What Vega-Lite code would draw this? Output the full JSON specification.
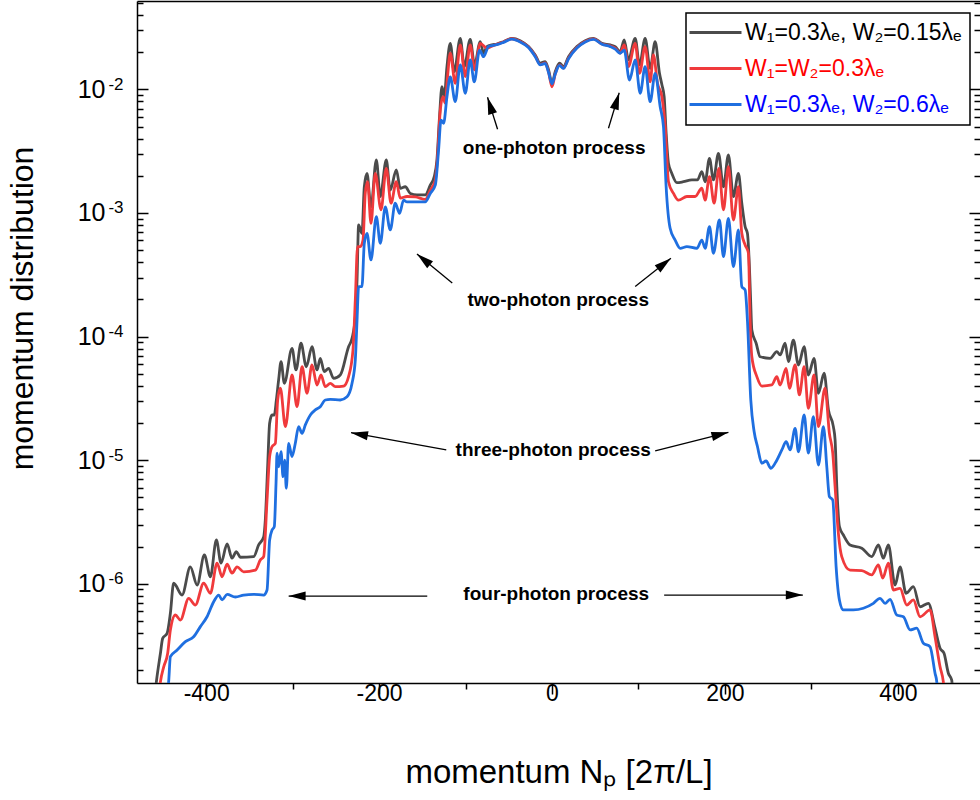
{
"$schema": "https://vega.github.io/schema/vega-lite/v6.json",
"width": 843, "height": 682,
"autosize": {"type": "none"},
"padding": {"left": 137, "top": 1, "right": 0, "bottom": 117},
"config": {
  "font": "Liberation Sans",
  "view": {"stroke": null},
  "axis": {"domainColor": "black", "domainWidth": 1.5, "tickColor": "black", "tickWidth": 1.5, "labelColor": "black", "titleColor": "black", "grid": false, "labelFont": "Liberation Sans", "titleFont": "Liberation Sans", "titleFontWeight": "normal"}
},
"datasets": {
"curves": [
{"k":"a","x":-459.9,"y":1.15e-7},{"k":"a","x":-457.6,"y":1.61e-7},{"k":"a","x":-452.9,"y":2.74e-7},{"k":"a","x":-450.3,"y":3.62e-7},{"k":"a","x":-445.2,"y":3.97e-7},{"k":"a","x":-441.4,"y":5.77e-7},{"k":"a","x":-437.6,"y":1.01e-6},{"k":"a","x":-427.9,"y":8.11e-7},{"k":"a","x":-418.3,"y":1.37e-6},{"k":"a","x":-410.5,"y":9.77e-7},{"k":"a","x":-402.1,"y":1.71e-6},{"k":"a","x":-395.1,"y":1.14e-6},{"k":"a","x":-388.2,"y":2.26e-6},{"k":"a","x":-382.8,"y":1.47e-6},{"k":"a","x":-375.8,"y":2.10e-6},{"k":"a","x":-370.1,"y":1.61e-6},{"k":"a","x":-365.1,"y":1.82e-6},{"k":"a","x":-360.5,"y":1.64e-6},{"k":"a","x":-345.1,"y":1.66e-6},{"k":"a","x":-339.3,"y":2.06e-6},{"k":"a","x":-333.5,"y":2.40e-6},{"k":"a","x":-331.6,"y":3.28e-6},{"k":"a","x":-328.9,"y":8.85e-6},{"k":"a","x":-326.6,"y":1.99e-5},{"k":"a","x":-323.8,"y":2.32e-5},{"k":"a","x":-321.2,"y":2.32e-5},{"k":"a","x":-318.8,"y":3.07e-5},{"k":"a","x":-316.2,"y":4.46e-5},{"k":"a","x":-313.4,"y":6.27e-5},{"k":"a","x":-309.6,"y":4.19e-5},{"k":"a","x":-300.7,"y":8.04e-5},{"k":"a","x":-296.1,"y":5.37e-5},{"k":"a","x":-290.3,"y":8.83e-5},{"k":"a","x":-284.2,"y":5.70e-5},{"k":"a","x":-277.6,"y":8.28e-5},{"k":"a","x":-271.8,"y":5.37e-5},{"k":"a","x":-268.0,"y":6.67e-5},{"k":"a","x":-263.4,"y":5.20e-5},{"k":"a","x":-258.4,"y":5.53e-5},{"k":"a","x":-252.6,"y":4.59e-5},{"k":"a","x":-244.9,"y":4.89e-5},{"k":"a","x":-235.3,"y":8.28e-5},{"k":"a","x":-231.3,"y":9.68e-5},{"k":"a","x":-227.5,"y":1.45e-4},{"k":"a","x":-225.5,"y":2.87e-4},{"k":"a","x":-223.7,"y":8.00e-4},{"k":"a","x":-219.8,"y":6.85e-4},{"k":"a","x":-217.1,"y":1.63e-3},{"k":"a","x":-214.0,"y":2.09e-3},{"k":"a","x":-209.4,"y":1.12e-3},{"k":"a","x":-203.2,"y":2.69e-3},{"k":"a","x":-198.6,"y":1.36e-3},{"k":"a","x":-191.7,"y":2.69e-3},{"k":"a","x":-187.1,"y":1.53e-3},{"k":"a","x":-180.1,"y":2.23e-3},{"k":"a","x":-175.5,"y":1.585e-3},{"k":"a","x":-169.7,"y":1.63e-3},{"k":"a","x":-163.9,"y":1.44e-3},{"k":"a","x":-156.2,"y":1.40e-3},{"k":"a","x":-146.6,"y":1.40e-3},{"k":"a","x":-140.8,"y":1.68e-3},{"k":"a","x":-136.2,"y":1.97e-3},{"k":"a","x":-133.1,"y":2.69e-3},{"k":"a","x":-130.1,"y":6.01e-3},{"k":"a","x":-127.3,"y":1.052e-2},{"k":"a","x":-124.6,"y":8.73e-3},{"k":"a","x":-121.5,"y":1.53e-2},{"k":"a","x":-117.7,"y":2.36e-2},{"k":"a","x":-113.1,"y":1.39e-2},{"k":"a","x":-106.1,"y":2.59e-2},{"k":"a","x":-101.5,"y":1.53e-2},{"k":"a","x":-94.6,"y":2.54e-2},{"k":"a","x":-89.6,"y":1.58e-2},{"k":"a","x":-83.0,"y":2.43e-2},{"k":"a","x":-79.2,"y":1.96e-2},{"k":"a","x":-75.3,"y":2.22e-2},{"k":"a","x":-69.5,"y":2.29e-2},{"k":"a","x":-63.7,"y":2.33e-2},{"k":"a","x":-56.1,"y":2.43e-2},{"k":"a","x":-46.4,"y":2.59e-2},{"k":"a","x":-36.8,"y":2.48e-2},{"k":"a","x":-27.2,"y":2.22e-2},{"k":"a","x":-19.4,"y":1.90e-2},{"k":"a","x":-13.6,"y":1.63e-2},{"k":"a","x":-7.9,"y":1.68e-2},{"k":"a","x":-4.0,"y":1.44e-2},{"k":"a","x":0,"y":1.12e-2},{"k":"a","x":3.7,"y":1.39e-2},{"k":"a","x":8.7,"y":1.63e-2},{"k":"a","x":13.3,"y":1.53e-2},{"k":"a","x":19.1,"y":1.84e-2},{"k":"a","x":28.8,"y":2.22e-2},{"k":"a","x":38.4,"y":2.48e-2},{"k":"a","x":48.0,"y":2.59e-2},{"k":"a","x":57.7,"y":2.36e-2},{"k":"a","x":67.3,"y":2.29e-2},{"k":"a","x":73.1,"y":2.22e-2},{"k":"a","x":78.8,"y":2.02e-2},{"k":"a","x":83.5,"y":2.51e-2},{"k":"a","x":88.4,"y":1.73e-2},{"k":"a","x":96.2,"y":2.59e-2},{"k":"a","x":101.2,"y":1.58e-2},{"k":"a","x":107.7,"y":2.59e-2},{"k":"a","x":113.5,"y":1.48e-2},{"k":"a","x":119.3,"y":2.43e-2},{"k":"a","x":124.3,"y":1.35e-2},{"k":"a","x":127.1,"y":1.09e-2},{"k":"a","x":129.7,"y":8.73e-3},{"k":"a","x":132.0,"y":4.41e-3},{"k":"a","x":134.7,"y":2.52e-3},{"k":"a","x":138.6,"y":2.09e-3},{"k":"a","x":144.4,"y":1.76e-3},{"k":"a","x":152.0,"y":1.79e-3},{"k":"a","x":161.7,"y":1.85e-3},{"k":"a","x":168.2,"y":1.85e-3},{"k":"a","x":173.3,"y":2.16e-3},{"k":"a","x":177.1,"y":1.79e-3},{"k":"a","x":182.1,"y":2.77e-3},{"k":"a","x":186.7,"y":1.85e-3},{"k":"a","x":192.5,"y":3.04e-3},{"k":"a","x":198.3,"y":1.63e-3},{"k":"a","x":204.0,"y":2.95e-3},{"k":"a","x":209.8,"y":1.36e-3},{"k":"a","x":215.6,"y":2.09e-3},{"k":"a","x":219.5,"y":1.20e-3},{"k":"a","x":223.4,"y":7.74e-4},{"k":"a","x":226.0,"y":6.85e-4},{"k":"a","x":228.3,"y":3.68e-4},{"k":"a","x":229.7,"y":1.98e-4},{"k":"a","x":231.1,"y":1.13e-4},{"k":"a","x":236.1,"y":8.83e-5},{"k":"a","x":240.7,"y":6.87e-5},{"k":"a","x":252.3,"y":6.67e-5},{"k":"a","x":260.0,"y":7.55e-5},{"k":"a","x":263.8,"y":7.10e-5},{"k":"a","x":269.6,"y":8.83e-5},{"k":"a","x":273.4,"y":6.27e-5},{"k":"a","x":279.2,"y":9.38e-5},{"k":"a","x":285.0,"y":5.89e-5},{"k":"a","x":291.6,"y":8.28e-5},{"k":"a","x":296.5,"y":4.89e-5},{"k":"a","x":303.1,"y":6.67e-5},{"k":"a","x":308.1,"y":3.48e-5},{"k":"a","x":314.7,"y":5.05e-5},{"k":"a","x":319.7,"y":2.55e-5},{"k":"a","x":325.4,"y":1.87e-5},{"k":"a","x":327.4,"y":1.46e-5},{"k":"a","x":329.4,"y":6.10e-6},{"k":"a","x":332.4,"y":2.90e-6},{"k":"a","x":337.0,"y":2.48e-6},{"k":"a","x":344.7,"y":2.06e-6},{"k":"a","x":358.3,"y":1.94e-6},{"k":"a","x":369.8,"y":1.66e-6},{"k":"a","x":377.5,"y":2.06e-6},{"k":"a","x":383.2,"y":1.61e-6},{"k":"a","x":389.0,"y":2.06e-6},{"k":"a","x":396.8,"y":9.77e-7},{"k":"a","x":402.5,"y":1.37e-6},{"k":"a","x":409.5,"y":8.38e-7},{"k":"a","x":417.9,"y":9.47e-7},{"k":"a","x":425.7,"y":6.52e-7},{"k":"a","x":435.3,"y":6.95e-7},{"k":"a","x":443.0,"y":4.37e-7},{"k":"a","x":448.8,"y":3.01e-7},{"k":"a","x":453.4,"y":2.74e-7},{"k":"a","x":458.4,"y":1.89e-7},{"k":"a","x":462.3,"y":1.66e-7},{"k":"a","x":463.8,"y":1.15e-7},
{"k":"b","x":-455.3,"y":1.15e-7},{"k":"b","x":-452.9,"y":1.61e-7},{"k":"b","x":-449.1,"y":2.13e-7},{"k":"b","x":-444.5,"y":2.74e-7},{"k":"b","x":-441.4,"y":4.23e-7},{"k":"b","x":-435.6,"y":5.59e-7},{"k":"b","x":-429.8,"y":5.09e-7},{"k":"b","x":-420.2,"y":7.63e-7},{"k":"b","x":-412.5,"y":6.73e-7},{"k":"b","x":-402.9,"y":1.01e-6},{"k":"b","x":-395.1,"y":8.38e-7},{"k":"b","x":-387.4,"y":1.47e-6},{"k":"b","x":-381.6,"y":1.14e-6},{"k":"b","x":-375.8,"y":1.44e-6},{"k":"b","x":-370.1,"y":1.22e-6},{"k":"b","x":-364.3,"y":1.37e-6},{"k":"b","x":-356.6,"y":1.25e-6},{"k":"b","x":-343.1,"y":1.29e-6},{"k":"b","x":-337.3,"y":1.56e-6},{"k":"b","x":-333.5,"y":1.66e-6},{"k":"b","x":-329.6,"y":4.76e-6},{"k":"b","x":-326.6,"y":1.07e-5},{"k":"b","x":-323.8,"y":1.29e-5},{"k":"b","x":-320.0,"y":1.37e-5},{"k":"b","x":-317.3,"y":3.07e-5},{"k":"b","x":-314.2,"y":3.82e-5},{"k":"b","x":-308.4,"y":1.87e-5},{"k":"b","x":-300.7,"y":4.89e-5},{"k":"b","x":-294.9,"y":2.71e-5},{"k":"b","x":-289.1,"y":5.70e-5},{"k":"b","x":-283.4,"y":3.48e-5},{"k":"b","x":-277.6,"y":5.89e-5},{"k":"b","x":-271.8,"y":4.06e-5},{"k":"b","x":-267.2,"y":4.89e-5},{"k":"b","x":-262.2,"y":3.93e-5},{"k":"b","x":-256.4,"y":4.19e-5},{"k":"b","x":-250.6,"y":3.93e-5},{"k":"b","x":-241.0,"y":3.98e-5},{"k":"b","x":-235.3,"y":4.74e-5},{"k":"b","x":-230.2,"y":7.79e-5},{"k":"b","x":-227.5,"y":1.98e-4},{"k":"b","x":-224.9,"y":5.34e-4},{"k":"b","x":-221.7,"y":5.34e-4},{"k":"b","x":-218.6,"y":6.04e-4},{"k":"b","x":-216.0,"y":1.44e-3},{"k":"b","x":-213.3,"y":1.79e-3},{"k":"b","x":-209.4,"y":8.25e-4},{"k":"b","x":-204.4,"y":2.09e-3},{"k":"b","x":-197.8,"y":1.06e-3},{"k":"b","x":-191.7,"y":2.30e-3},{"k":"b","x":-186.2,"y":1.20e-3},{"k":"b","x":-180.1,"y":1.79e-3},{"k":"b","x":-175.5,"y":1.32e-3},{"k":"b","x":-167.7,"y":1.36e-3},{"k":"b","x":-158.2,"y":1.35e-3},{"k":"b","x":-146.6,"y":1.29e-3},{"k":"b","x":-140.8,"y":1.53e-3},{"k":"b","x":-135.0,"y":1.85e-3},{"k":"b","x":-132.4,"y":2.85e-3},{"k":"b","x":-129.2,"y":6.81e-3},{"k":"b","x":-126.1,"y":8.73e-3},{"k":"b","x":-123.5,"y":7.72e-3},{"k":"b","x":-120.8,"y":1.27e-2},{"k":"b","x":-117.7,"y":1.96e-2},{"k":"b","x":-111.9,"y":1.12e-2},{"k":"b","x":-106.1,"y":2.29e-2},{"k":"b","x":-100.3,"y":1.27e-2},{"k":"b","x":-94.6,"y":2.29e-2},{"k":"b","x":-89.6,"y":1.44e-2},{"k":"b","x":-83.0,"y":2.36e-2},{"k":"b","x":-75.3,"y":2.16e-2},{"k":"b","x":-69.5,"y":2.24e-2},{"k":"b","x":-56.1,"y":2.42e-2},{"k":"b","x":-46.4,"y":2.57e-2},{"k":"b","x":-36.8,"y":2.44e-2},{"k":"b","x":-27.2,"y":2.20e-2},{"k":"b","x":-19.4,"y":1.86e-2},{"k":"b","x":-13.6,"y":1.59e-2},{"k":"b","x":-7.9,"y":1.64e-2},{"k":"b","x":-4.0,"y":1.38e-2},{"k":"b","x":0,"y":1.05e-2},{"k":"b","x":3.7,"y":1.33e-2},{"k":"b","x":8.7,"y":1.58e-2},{"k":"b","x":13.3,"y":1.49e-2},{"k":"b","x":19.1,"y":1.79e-2},{"k":"b","x":28.8,"y":2.18e-2},{"k":"b","x":38.4,"y":2.44e-2},{"k":"b","x":48.0,"y":2.56e-2},{"k":"b","x":57.7,"y":2.33e-2},{"k":"b","x":67.3,"y":2.25e-2},{"k":"b","x":73.1,"y":2.16e-2},{"k":"b","x":78.8,"y":1.97e-2},{"k":"b","x":83.5,"y":2.29e-2},{"k":"b","x":88.4,"y":1.53e-2},{"k":"b","x":96.2,"y":2.36e-2},{"k":"b","x":101.2,"y":1.35e-2},{"k":"b","x":107.7,"y":2.22e-2},{"k":"b","x":113.5,"y":1.15e-2},{"k":"b","x":117.3,"y":1.90e-2},{"k":"b","x":122.0,"y":1.12e-2},{"k":"b","x":127.1,"y":8.73e-3},{"k":"b","x":130.9,"y":4.99e-3},{"k":"b","x":134.7,"y":1.79e-3},{"k":"b","x":140.5,"y":1.44e-3},{"k":"b","x":146.2,"y":1.27e-3},{"k":"b","x":156.0,"y":1.36e-3},{"k":"b","x":165.5,"y":1.36e-3},{"k":"b","x":173.3,"y":1.585e-3},{"k":"b","x":177.1,"y":1.27e-3},{"k":"b","x":182.1,"y":1.97e-3},{"k":"b","x":187.5,"y":1.20e-3},{"k":"b","x":193.0,"y":2.30e-3},{"k":"b","x":198.3,"y":1.06e-3},{"k":"b","x":204.0,"y":2.37e-3},{"k":"b","x":209.8,"y":8.78e-4},{"k":"b","x":215.6,"y":1.63e-3},{"k":"b","x":219.5,"y":6.85e-4},{"k":"b","x":223.4,"y":5.51e-4},{"k":"b","x":227.2,"y":4.72e-4},{"k":"b","x":229.1,"y":1.36e-4},{"k":"b","x":231.1,"y":6.87e-5},{"k":"b","x":236.9,"y":4.74e-5},{"k":"b","x":242.7,"y":3.98e-5},{"k":"b","x":254.2,"y":4.06e-5},{"k":"b","x":260.0,"y":4.74e-5},{"k":"b","x":263.8,"y":4.06e-5},{"k":"b","x":270.8,"y":5.53e-5},{"k":"b","x":274.6,"y":3.82e-5},{"k":"b","x":281.2,"y":5.89e-5},{"k":"b","x":286.1,"y":3.37e-5},{"k":"b","x":291.6,"y":5.70e-5},{"k":"b","x":296.5,"y":2.63e-5},{"k":"b","x":303.1,"y":4.89e-5},{"k":"b","x":308.1,"y":1.87e-5},{"k":"b","x":315.8,"y":3.82e-5},{"k":"b","x":320.8,"y":1.65e-5},{"k":"b","x":324.7,"y":1.14e-5},{"k":"b","x":327.4,"y":6.10e-6},{"k":"b","x":331.2,"y":2.56e-6},{"k":"b","x":335.1,"y":1.66e-6},{"k":"b","x":344.7,"y":1.29e-6},{"k":"b","x":358.3,"y":1.28e-6},{"k":"b","x":369.8,"y":1.18e-6},{"k":"b","x":377.5,"y":1.42e-6},{"k":"b","x":382.5,"y":1.11e-6},{"k":"b","x":389.0,"y":1.47e-6},{"k":"b","x":394.8,"y":8.91e-7},{"k":"b","x":402.5,"y":9.19e-7},{"k":"b","x":410.3,"y":6.73e-7},{"k":"b","x":417.9,"y":7.40e-7},{"k":"b","x":425.7,"y":5.41e-7},{"k":"b","x":437.2,"y":6.14e-7},{"k":"b","x":443.0,"y":3.73e-7},{"k":"b","x":448.8,"y":2.13e-7},{"k":"b","x":452.6,"y":1.61e-7},{"k":"b","x":454.6,"y":1.15e-7},
{"k":"c","x":-446.0,"y":1.15e-7},{"k":"c","x":-443.4,"y":1.61e-7},{"k":"c","x":-441.4,"y":2.57e-7},{"k":"c","x":-433.6,"y":2.91e-7},{"k":"c","x":-424.0,"y":3.40e-7},{"k":"c","x":-414.5,"y":3.73e-7},{"k":"c","x":-406.7,"y":4.50e-7},{"k":"c","x":-399.0,"y":5.41e-7},{"k":"c","x":-391.3,"y":7.16e-7},{"k":"c","x":-385.5,"y":8.11e-7},{"k":"c","x":-381.6,"y":7.40e-7},{"k":"c","x":-375.8,"y":8.22e-7},{"k":"c","x":-366.2,"y":7.82e-7},{"k":"c","x":-356.6,"y":8.11e-7},{"k":"c","x":-345.1,"y":8.22e-7},{"k":"c","x":-333.5,"y":8.11e-7},{"k":"c","x":-329.6,"y":8.91e-7},{"k":"c","x":-326.6,"y":2.26e-6},{"k":"c","x":-323.8,"y":2.72e-6},{"k":"c","x":-321.2,"y":2.90e-6},{"k":"c","x":-319.2,"y":6.50e-6},{"k":"c","x":-318.0,"y":1.14e-5},{"k":"c","x":-316.2,"y":8.85e-6},{"k":"c","x":-313.4,"y":1.17e-5},{"k":"c","x":-311.1,"y":7.35e-6},{"k":"c","x":-309.2,"y":1.00e-5},{"k":"c","x":-307.3,"y":5.92e-6},{"k":"c","x":-304.6,"y":1.37e-5},{"k":"c","x":-300.7,"y":1.07e-5},{"k":"c","x":-296.9,"y":1.37e-5},{"k":"c","x":-293.1,"y":1.87e-5},{"k":"c","x":-289.1,"y":1.65e-5},{"k":"c","x":-285.3,"y":1.93e-5},{"k":"c","x":-279.5,"y":2.32e-5},{"k":"c","x":-273.8,"y":2.55e-5},{"k":"c","x":-268.0,"y":2.71e-5},{"k":"c","x":-262.2,"y":3.07e-5},{"k":"c","x":-256.4,"y":3.11e-5},{"k":"c","x":-244.9,"y":3.07e-5},{"k":"c","x":-237.1,"y":3.26e-5},{"k":"c","x":-231.3,"y":4.19e-5},{"k":"c","x":-227.5,"y":6.47e-5},{"k":"c","x":-225.5,"y":1.36e-4},{"k":"c","x":-223.7,"y":2.54e-4},{"k":"c","x":-219.8,"y":2.54e-4},{"k":"c","x":-217.1,"y":5.69e-4},{"k":"c","x":-214.0,"y":6.85e-4},{"k":"c","x":-209.4,"y":4.17e-4},{"k":"c","x":-203.2,"y":9.33e-4},{"k":"c","x":-198.6,"y":5.69e-4},{"k":"c","x":-192.8,"y":1.12e-3},{"k":"c","x":-187.1,"y":7.29e-4},{"k":"c","x":-181.3,"y":1.20e-3},{"k":"c","x":-176.3,"y":9.94e-4},{"k":"c","x":-171.7,"y":1.27e-3},{"k":"c","x":-167.7,"y":1.23e-3},{"k":"c","x":-158.2,"y":1.23e-3},{"k":"c","x":-146.6,"y":1.23e-3},{"k":"c","x":-140.8,"y":1.44e-3},{"k":"c","x":-135.0,"y":1.68e-3},{"k":"c","x":-131.2,"y":3.23e-3},{"k":"c","x":-128.4,"y":5.65e-3},{"k":"c","x":-125.4,"y":5.32e-3},{"k":"c","x":-121.5,"y":8.73e-3},{"k":"c","x":-117.7,"y":1.26e-2},{"k":"c","x":-111.9,"y":7.95e-3},{"k":"c","x":-106.1,"y":1.58e-2},{"k":"c","x":-100.3,"y":9.30e-3},{"k":"c","x":-94.6,"y":1.73e-2},{"k":"c","x":-89.9,"y":1.15e-2},{"k":"c","x":-83.8,"y":2.08e-2},{"k":"c","x":-79.2,"y":1.84e-2},{"k":"c","x":-73.4,"y":2.22e-2},{"k":"c","x":-63.7,"y":2.30e-2},{"k":"c","x":-56.1,"y":2.40e-2},{"k":"c","x":-46.4,"y":2.55e-2},{"k":"c","x":-36.8,"y":2.42e-2},{"k":"c","x":-27.2,"y":2.18e-2},{"k":"c","x":-19.4,"y":1.84e-2},{"k":"c","x":-13.6,"y":1.58e-2},{"k":"c","x":-7.9,"y":1.62e-2},{"k":"c","x":-4.0,"y":1.37e-2},{"k":"c","x":0,"y":1.11e-2},{"k":"c","x":3.7,"y":1.33e-2},{"k":"c","x":8.7,"y":1.56e-2},{"k":"c","x":13.3,"y":1.48e-2},{"k":"c","x":19.1,"y":1.77e-2},{"k":"c","x":28.8,"y":2.16e-2},{"k":"c","x":38.4,"y":2.42e-2},{"k":"c","x":48.0,"y":2.54e-2},{"k":"c","x":57.7,"y":2.32e-2},{"k":"c","x":67.3,"y":2.22e-2},{"k":"c","x":73.1,"y":2.12e-2},{"k":"c","x":78.8,"y":1.96e-2},{"k":"c","x":83.5,"y":2.08e-2},{"k":"c","x":89.6,"y":1.19e-2},{"k":"c","x":96.2,"y":1.73e-2},{"k":"c","x":102.0,"y":9.30e-3},{"k":"c","x":107.7,"y":1.53e-2},{"k":"c","x":113.5,"y":7.95e-3},{"k":"c","x":119.3,"y":1.35e-2},{"k":"c","x":125.1,"y":7.24e-3},{"k":"c","x":128.9,"y":4.99e-3},{"k":"c","x":132.0,"y":1.63e-3},{"k":"c","x":136.6,"y":7.52e-4},{"k":"c","x":142.4,"y":6.04e-4},{"k":"c","x":148.2,"y":5.18e-4},{"k":"c","x":156.0,"y":5.34e-4},{"k":"c","x":167.5,"y":5.18e-4},{"k":"c","x":173.3,"y":6.04e-4},{"k":"c","x":177.1,"y":5.18e-4},{"k":"c","x":182.1,"y":7.74e-4},{"k":"c","x":186.7,"y":4.72e-4},{"k":"c","x":193.6,"y":8.78e-4},{"k":"c","x":198.3,"y":4.43e-4},{"k":"c","x":204.0,"y":9.06e-4},{"k":"c","x":209.8,"y":3.68e-4},{"k":"c","x":215.6,"y":7.29e-4},{"k":"c","x":219.5,"y":2.54e-4},{"k":"c","x":223.4,"y":2.38e-4},{"k":"c","x":226.0,"y":1.36e-4},{"k":"c","x":229.9,"y":3.07e-5},{"k":"c","x":233.8,"y":1.70e-5},{"k":"c","x":237.6,"y":1.29e-5},{"k":"c","x":242.7,"y":9.44e-6},{"k":"c","x":247.6,"y":9.85e-6},{"k":"c","x":253.1,"y":8.60e-6},{"k":"c","x":260.0,"y":1.00e-5},{"k":"c","x":265.8,"y":1.21e-5},{"k":"c","x":270.8,"y":1.41e-5},{"k":"c","x":275.4,"y":1.21e-5},{"k":"c","x":281.2,"y":1.81e-5},{"k":"c","x":285.0,"y":1.17e-5},{"k":"c","x":291.6,"y":2.32e-5},{"k":"c","x":296.5,"y":1.14e-5},{"k":"c","x":302.3,"y":2.25e-5},{"k":"c","x":308.1,"y":9.14e-6},{"k":"c","x":313.9,"y":1.87e-5},{"k":"c","x":317.8,"y":8.85e-6},{"k":"c","x":320.8,"y":5.07e-6},{"k":"c","x":324.7,"y":4.76e-6},{"k":"c","x":328.6,"y":1.37e-6},{"k":"c","x":332.4,"y":7.40e-7},{"k":"c","x":337.0,"y":6.14e-7},{"k":"c","x":348.6,"y":6.14e-7},{"k":"c","x":360.1,"y":6.34e-7},{"k":"c","x":371.7,"y":6.95e-7},{"k":"c","x":379.4,"y":7.63e-7},{"k":"c","x":385.2,"y":6.95e-7},{"k":"c","x":391.0,"y":7.49e-7},{"k":"c","x":398.7,"y":5.59e-7},{"k":"c","x":406.4,"y":5.41e-7},{"k":"c","x":414.1,"y":4.23e-7},{"k":"c","x":421.8,"y":4.37e-7},{"k":"c","x":429.5,"y":3.30e-7},{"k":"c","x":437.2,"y":3.10e-7},{"k":"c","x":443.0,"y":1.89e-7},{"k":"c","x":445.0,"y":1.61e-7},{"k":"c","x":446.5,"y":1.15e-7}
],
"notes": [
{"t":"one-photon process","x":2.5,"y":3.36e-3},
{"t":"two-photon process","x":7.2,"y":1.98e-4},
{"t":"three-photon process","x":1.4,"y":1.21e-5},
{"t":"four-photon process","x":4.9,"y":8.27e-7}
],
"arrows": [
{"x":-63.0,"y":4.76e-3,"x2":-74.6,"y2":8.63e-3},
{"x":65.3,"y":4.85e-3,"x2":77.7,"y2":9.40e-3},
{"x":-115.4,"y":2.71e-4,"x2":-156.2,"y2":4.66e-4},
{"x":96.2,"y":2.54e-4,"x2":137.5,"y2":4.30e-4},
{"x":-122.3,"y":1.21e-5,"x2":-232.5,"y2":1.67e-5},
{"x":119.3,"y":1.19e-5,"x2":204.0,"y2":1.68e-5},
{"x":-144.3,"y":7.96e-7,"x2":-304.6,"y2":7.96e-7},
{"x":129.7,"y":8.11e-7,"x2":290.1,"y2":8.11e-7}
]
},
"layer": [
{
 "data": {"name": "curves"},
 "mark": {"type": "line", "clip": true, "strokeWidth": 2.8, "interpolate": "monotone"},
 "encoding": {
  "x": {"field": "x", "type": "quantitative", "scale": {"domain": [-480, 495], "nice": false, "zero": false},
   "axis": {"orient": "bottom", "values": [-400,-300,-200,-100,0,100,200,300,400],
    "labelExpr": "datum.value % 200 == 0 ? '' + datum.value : ''",
    "tickSize": {"condition": {"test": "datum.value % 200 == 0", "value": 11}, "value": 6},
    "labelFontSize": 23, "labelPadding": -12, "labelFlush": false, "labelOverlap": false,
    "title": "momentum Nₚ [2π/L]", "titleFontSize": 33, "titleBaseline": "alphabetic", "titleY": 99}},
  "y": {"field": "y", "type": "quantitative", "scale": {"type": "log", "domain": [1.575e-7, 0.0519], "nice": false},
   "axis": {"orient": "left", "labels": false,
    "values": [2e-7,3e-7,4e-7,5e-7,6e-7,7e-7,8e-7,9e-7,1e-6,2e-6,3e-6,4e-6,5e-6,6e-6,7e-6,8e-6,9e-6,1e-5,2e-5,3e-5,4e-5,5e-5,6e-5,7e-5,8e-5,9e-5,1e-4,2e-4,3e-4,4e-4,5e-4,6e-4,7e-4,8e-4,9e-4,1e-3,2e-3,3e-3,4e-3,5e-3,6e-3,7e-3,8e-3,9e-3,1e-2,2e-2,3e-2,4e-2,5e-2],
    "tickSize": {"condition": {"test": "abs(log(datum.value)/LN10 - round(log(datum.value)/LN10)) < 0.001", "value": -11}, "value": -6},
    "title": "momentum distribution", "titleFontSize": 32, "titleBaseline": "middle", "titleX": -115, "titleY": 307}},
  "color": {"field": "k", "type": "nominal",
   "scale": {"domain": ["a","b","c"], "range": ["#4b4b4b", "#f03a3c", "#1f6fe0"]},
   "legend": {"title": null, "orient": "none", "legendX": 549, "legendY": 12,
    "labelExpr": "datum.value === 'a' ? 'W₁=0.3λₑ, W₂=0.15λₑ' : datum.value === 'b' ? 'W₁=W₂=0.3λₑ' : 'W₁=0.3λₑ, W₂=0.6λₑ'",
    "labelFontSize": 23, "labelFont": "Liberation Sans", "labelLimit": 400,
    "symbolType": "M-6,0H6", "symbolSize": 75, "symbolStrokeWidth": 3, "symbolOffset": 10, "labelOffset": 18,
    "rowPadding": 12, "padding": 8, "strokeColor": "black", "fillColor": "white",
    "encode": {"labels": {"update": {"fill": {"signal": "datum.value === 'b' ? '#ff0000' : datum.value === 'c' ? '#0000ff' : '#000000'"}}},
               "legend": {"update": {"strokeWidth": {"value": 1.5}}}}}}
 }
},
{
 "data": {"name": "arrows"},
 "mark": {"type": "rule", "color": "black", "strokeWidth": 1.3},
 "encoding": {
  "x": {"field": "x", "type": "quantitative", "axis": null},
  "y": {"field": "y", "type": "quantitative",
   "axis": {"orient": "left", "values": [1e-6,1e-5,1e-4,1e-3,1e-2], "domain": false, "ticks": false, "title": null,
    "labelExpr": "'-' + (-round(log(datum.value)/LN10))",
    "labelFontSize": 17, "labelPadding": 14, "labelOffset": -5, "labelOverlap": false, "labelBound": false}},
  "x2": {"field": "x2"},
  "y2": {"field": "y2"}
 }
},
{
 "data": {"name": "arrows"},
 "mark": {"type": "point", "shape": "M0,0L0.27,1L-0.27,1Z", "filled": true, "color": "black", "opacity": 1, "size": 1156,
  "angle": {"expr": "90 + atan2(scale('y', datum.y2) - scale('y', datum.y), scale('x', datum.x2) - scale('x', datum.x)) * 180 / PI"}},
 "encoding": {
  "x": {"field": "x2", "type": "quantitative", "axis": null},
  "y": {"field": "y2", "type": "quantitative",
   "axis": {"orient": "left", "values": [1e-6,1e-5,1e-4,1e-3,1e-2], "domain": false, "ticks": false, "title": null,
    "labelExpr": "'10'", "labelFontSize": 25, "labelPadding": 32, "labelOverlap": false, "labelBound": false}}
 }
},
{
 "data": {"name": "notes"},
 "mark": {"type": "text", "fontSize": 19, "fontWeight": "bold", "font": "Liberation Sans", "color": "black", "align": "center", "baseline": "middle"},
 "encoding": {
  "x": {"field": "x", "type": "quantitative",
   "axis": {"orient": "top", "ticks": false, "labels": false, "title": null, "domain": true}},
  "y": {"field": "y", "type": "quantitative",
   "axis": {"orient": "right", "domain": false, "labels": false, "title": null,
    "values": [2e-7,3e-7,4e-7,5e-7,6e-7,7e-7,8e-7,9e-7,1e-6,2e-6,3e-6,4e-6,5e-6,6e-6,7e-6,8e-6,9e-6,1e-5,2e-5,3e-5,4e-5,5e-5,6e-5,7e-5,8e-5,9e-5,1e-4,2e-4,3e-4,4e-4,5e-4,6e-4,7e-4,8e-4,9e-4,1e-3,2e-3,3e-3,4e-3,5e-3,6e-3,7e-3,8e-3,9e-3,1e-2,2e-2,3e-2,4e-2,5e-2],
    "tickSize": {"condition": {"test": "abs(log(datum.value)/LN10 - round(log(datum.value)/LN10)) < 0.001", "value": -11}, "value": -6}}},
  "text": {"field": "t"}
 }
}
],
"resolve": {"axis": {"x": "independent", "y": "independent"}}
}
